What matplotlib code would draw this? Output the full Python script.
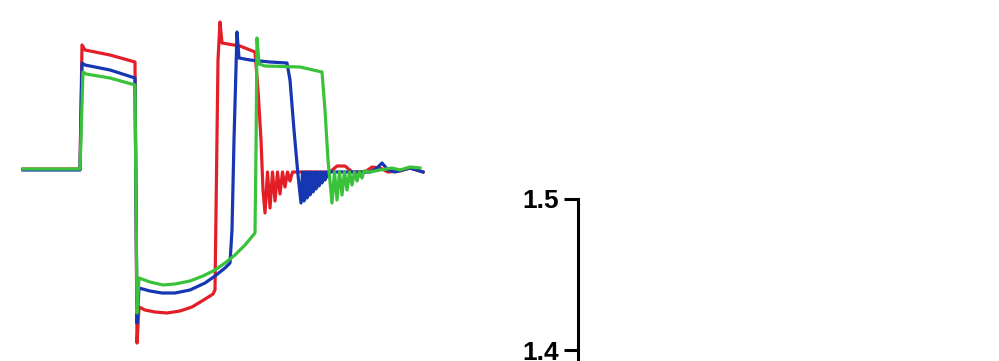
import numpy as np
import matplotlib
matplotlib.use("Agg")
import matplotlib.pyplot as plt

# waveform traces (time in arbitrary units, amplitude read as image rows)
red_t = [23, 80, 82, 85, 110, 135, 137, 139, 145, 155, 167, 180, 192, 202, 210, 213, 215, 218,
         220, 222, 240, 255, 258, 261, 263, 265, 267.5, 270, 272.5, 275, 277.5, 280, 282.5,
         285, 287.5, 290, 292.5, 297, 330, 337, 345, 352, 365, 372, 380, 388, 400, 410, 423]
red_y = [169, 169, 45, 50, 55, 62, 343, 307, 310, 312, 313, 311, 307, 301, 296, 294, 290, 60,
         22, 43, 46, 52, 90, 140, 190, 213, 172, 208, 172, 201, 172, 194, 172, 187, 172, 181,
         172, 172, 172, 166, 166, 172, 172, 167, 168, 172, 171, 168, 172]

blue_t = [23, 80, 82, 85, 110, 135, 137, 139, 150, 162, 175, 190, 205, 215, 225, 230, 232, 234,
          237, 239, 250, 270, 287, 290, 294, 298, 301, 302.5, 304, 305.5, 307, 308.5, 310,
          311.5, 313, 314.5, 316, 317.5, 319, 320.5, 322, 323.5, 325, 326.5, 328, 330, 350,
          370, 377, 382, 388, 395, 410, 423]
blue_y = [170, 170, 63, 65, 70, 78, 323, 288, 291, 293, 293, 290, 283, 276, 268, 263, 230, 140,
          32, 58, 60, 62, 63, 80, 130, 175, 203, 172, 201, 172, 198, 172, 195, 172, 192, 172,
          189, 172, 186, 172, 183, 172, 180, 172, 177, 172, 172, 172, 168, 163, 170, 172,
          168, 172]

green_t = [23, 80, 83, 86, 110, 135, 137, 139, 150, 163, 175, 190, 203, 215, 225, 235, 245, 255,
           256, 257, 259, 265, 300, 322, 325, 328, 332, 334.5, 337, 339.5, 342, 344.5, 347,
           349.5, 352, 354.5, 357, 359.5, 362, 364, 370, 380, 392, 400, 410, 420]
green_y = [169, 169, 72, 74, 78, 85, 313, 278, 282, 285, 284, 281, 276, 270, 263, 255, 245, 233,
           150, 38, 64, 66, 67, 72, 110, 160, 203, 172, 200, 172, 195, 172, 190, 172, 185,
           172, 181, 172, 178, 171, 172, 170, 168, 170, 167, 168]

# flip image rows to amplitude above the flat baseline
base = 169
red_amp = base - np.array(red_y)
blue_amp = base - np.array(blue_y)
green_amp = base - np.array(green_y)

y_ticks = [1.2, 1.3, 1.4, 1.5]

fig = plt.figure(figsize=(9.99, 3.61), dpi=100)

# left panel: the three traces, no axes drawn
ax = fig.add_axes([0, 0, 450/999, 1])
ax.plot(red_t, red_amp, color='#e41e26', lw=2.3)
ax.plot(blue_t, blue_amp, color='#1537b2', lw=2.3)
ax.plot(green_t, green_amp, color='#3bc23b', lw=2.3)
ax.set_xlim(0, 450)
ax.set_ylim(base - 361, base)
ax.axis('off')

# right panel: bare y axis, running off the bottom edge
top = 1 - 199/361
bottom = 1 - (199 + 3*151)/361
ax2 = fig.add_axes([577.5/999, bottom, 0.3, top - bottom])
ax2.set_ylim(1.2, 1.5)
ax2.set_yticks(y_ticks)
ax2.set_yticklabels([str(v) for v in y_ticks], fontsize=19, fontweight='bold',
                    family='Liberation Sans')
ax2.set_xticks([])
for s in ['top', 'right', 'bottom']:
    ax2.spines[s].set_visible(False)
ax2.spines['left'].set_linewidth(2.2)
ax2.tick_params(axis='y', length=10, width=2.2, pad=3)
ax2.patch.set_alpha(0)

plt.savefig('out.png', dpi=100)
